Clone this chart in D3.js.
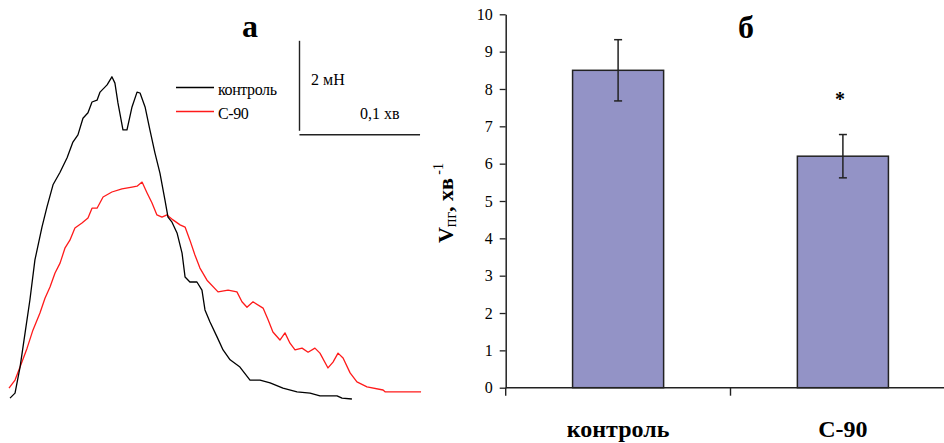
<!DOCTYPE html>
<html>
<head>
<meta charset="utf-8">
<script src="https://cdn.jsdelivr.net/npm/d3@7"></script>
<style>
  body { margin: 0; background: #fff; }
  svg { display: block; }
  text { font-family: "Liberation Serif", "Times New Roman", serif; fill: #000; }
</style>
</head>
<body>
<div id="chart"></div>
<script>
// panel а: force traces, time in s, force in mN
const controlTime = [0.05, 0.30, 0.55, 0.80, 1.04, 1.29, 1.64, 1.89, 2.19, 2.54, 2.89, 3.18, 3.43, 3.68, 3.93, 4.13, 4.38, 4.53, 4.88, 5.12, 5.27, 5.42, 5.67, 5.87, 6.12, 6.37, 6.52, 6.77, 7.01, 7.26, 7.51, 7.76, 7.91, 8.11, 8.36, 8.61, 8.76, 9.00, 9.35, 9.60, 9.75, 10.00, 10.35, 10.65, 11.00, 11.49, 11.99, 12.49, 12.99, 13.63, 14.33, 14.98, 15.47, 16.32, 16.57, 17.06];
const controlForce = [0.02, 0.13, 0.71, 1.47, 2.20, 3.09, 3.82, 4.27, 4.76, 5.04, 5.36, 5.71, 5.87, 6.24, 6.36, 6.60, 6.64, 6.82, 6.98, 7.16, 7.02, 6.58, 5.98, 5.98, 6.49, 6.82, 6.80, 6.49, 5.98, 5.47, 5.02, 4.42, 4.04, 3.93, 3.69, 3.24, 2.71, 2.60, 2.60, 2.42, 1.98, 1.71, 1.38, 1.09, 0.87, 0.71, 0.42, 0.42, 0.36, 0.24, 0.16, 0.13, 0.07, 0.07, 0.02, 0.00];

const c90Time = [0.00, 0.30, 0.55, 0.90, 1.19, 1.54, 1.79, 2.04, 2.29, 2.54, 2.79, 3.03, 3.28, 3.63, 3.93, 4.13, 4.38, 4.68, 5.12, 5.62, 6.12, 6.37, 6.62, 6.87, 7.11, 7.36, 7.61, 7.86, 8.16, 8.51, 8.76, 9.00, 9.25, 9.50, 9.85, 10.40, 10.90, 11.34, 11.59, 11.84, 12.14, 12.64, 12.89, 13.13, 13.48, 13.73, 13.98, 14.23, 14.58, 14.88, 15.22, 15.47, 15.87, 16.12, 16.37, 16.62, 16.97, 17.31, 17.81, 18.61, 18.71, 20.50];
const c90Force = [0.24, 0.42, 0.71, 1.13, 1.53, 1.91, 2.24, 2.49, 2.80, 3.02, 3.36, 3.53, 3.80, 3.91, 4.02, 4.24, 4.24, 4.49, 4.60, 4.67, 4.71, 4.73, 4.82, 4.58, 4.36, 4.09, 4.04, 4.09, 3.98, 3.87, 3.82, 3.53, 3.20, 2.91, 2.64, 2.38, 2.42, 2.38, 2.16, 2.04, 2.16, 2.02, 1.76, 1.49, 1.31, 1.47, 1.24, 1.09, 1.13, 1.04, 1.13, 1.02, 0.69, 0.82, 1.02, 0.91, 0.58, 0.38, 0.27, 0.20, 0.16, 0.16];

const traceNames = ["контроль", "С-90"];
const traceColors = ["#000000", "#ff1a1a"];

// scale bar: 2 mN, 0,1 хв (= 6 s)
const barForce = 2;
const barTime = 6;

// panel б: contraction speed
const categories = ["контроль", "С-90"];
const speedValues = [8.5, 6.2];
const speedErrors = [0.82, 0.58];
const yTicks = [0, 1, 2, 3, 4, 5, 6, 7, 8, 9, 10];

const width = 944, height = 443;

const svg = d3.select("#chart")
    .append("svg")
    .attr("width", width)
    .attr("height", height);

svg.append("rect")
    .attr("width", width)
    .attr("height", height)
    .attr("fill", "#fff");

// ---------- panel а ----------
let x = d3.scaleLinear().domain([0, 20]).range([9, 9 + 20 * 20.1]);
let y = d3.scaleLinear().domain([0, 8]).range([399, 399 - 8 * 45]);

let traces = [
    d3.zip(controlTime, controlForce),
    d3.zip(c90Time, c90Force)
];

let line = d3.line()
    .x(d => x(d[0]))
    .y(d => y(d[1]));

// red first so black sits on top where they cross
[1, 0].forEach(i => {
    svg.append("path")
        .attr("d", line(traces[i]))
        .attr("fill", "none")
        .attr("stroke", traceColors[i])
        .attr("stroke-width", 1.3)
        .attr("stroke-linejoin", "round");
});

svg.append("text")
    .attr("x", 250)
    .attr("y", 37)
    .attr("text-anchor", "middle")
    .style("font-size", "32px")
    .style("font-weight", "bold")
    .text("а");

// legend
let legend = svg.append("g");
traceNames.forEach((name, i) => {
    let ly = 87.5 + i * 24;
    legend.append("line")
        .attr("x1", 176).attr("x2", 214)
        .attr("y1", ly).attr("y2", ly)
        .attr("stroke", traceColors[i])
        .attr("stroke-width", 1.3);
    legend.append("text")
        .attr("x", 218)
        .attr("y", ly + 7)
        .style("font-size", "16px")
        .style("letter-spacing", "-0.4px")
        .text(name);
});

// scale bar
let barT0 = 14.45, barF0 = 5.96;
svg.append("line")
    .attr("x1", 299.5).attr("x2", 299.5)
    .attr("y1", y(barF0)).attr("y2", y(barF0 + barForce))
    .attr("stroke", "#222").attr("stroke-width", 1.4);
svg.append("line")
    .attr("x1", x(barT0)).attr("x2", x(barT0 + barTime))
    .attr("y1", 134.7).attr("y2", 134.7)
    .attr("stroke", "#222").attr("stroke-width", 1.4);
svg.append("text")
    .attr("x", 311).attr("y", 85)
    .style("font-size", "16px")
    .text(barForce + " мН");
svg.append("text")
    .attr("x", 360).attr("y", 119)
    .style("font-size", "16px")
    .text("0,1 хв");

// ---------- panel б ----------
let yB = d3.scaleLinear().domain([0, 10]).range([387.7, 14.3]);
let xB = d3.scaleBand()
    .domain(categories)
    .range([505.7, 955.3])
    .paddingInner(0.595)
    .paddingOuter(0.2975);

let yAxis = d3.axisLeft(yB)
    .tickValues(yTicks)
    .tickSize(6)
    .tickSizeOuter(0)
    .tickPadding(7);

let gy = svg.append("g")
    .attr("transform", "translate(505.7,0)")
    .call(yAxis);
gy.select(".domain").attr("stroke", "#222").attr("stroke-width", 1.5);
gy.selectAll(".tick line").attr("stroke", "#222").attr("stroke-width", 1.3);
gy.selectAll(".tick text")
    .style("font-family", '"Liberation Serif", "Times New Roman", serif')
    .style("font-size", "16px")
    .attr("fill", "#000");

// bars
svg.append("g")
    .selectAll("rect")
    .data(categories)
    .enter().append("rect")
    .attr("x", d => xB(d))
    .attr("y", (d, i) => yB(speedValues[i]))
    .attr("width", xB.bandwidth())
    .attr("height", (d, i) => yB(0) - yB(speedValues[i]))
    .attr("fill", "#9393c6")
    .attr("stroke", "#222")
    .attr("stroke-width", 1.5);

// error bars
let err = svg.append("g")
    .selectAll("g")
    .data(categories)
    .enter().append("g")
    .attr("stroke", "#222")
    .attr("stroke-width", 1.5);
err.append("line")
    .attr("x1", d => xB(d) + xB.bandwidth() / 2)
    .attr("x2", d => xB(d) + xB.bandwidth() / 2)
    .attr("y1", (d, i) => yB(speedValues[i] + speedErrors[i]))
    .attr("y2", (d, i) => yB(speedValues[i] - speedErrors[i]));
[1, -1].forEach(s => {
    err.append("line")
        .attr("x1", d => xB(d) + xB.bandwidth() / 2 - 4)
        .attr("x2", d => xB(d) + xB.bandwidth() / 2 + 4)
        .attr("y1", (d, i) => yB(speedValues[i] + s * speedErrors[i]))
        .attr("y2", (d, i) => yB(speedValues[i] + s * speedErrors[i]));
});

// x axis line and category boundary ticks
svg.append("line")
    .attr("x1", 505.7).attr("x2", width)
    .attr("y1", yB(0)).attr("y2", yB(0))
    .attr("stroke", "#222").attr("stroke-width", 1.5);
d3.range(categories.length + 1).forEach(k => {
    let bx = 505.7 + k * xB.step();
    svg.append("line")
        .attr("x1", bx).attr("x2", bx)
        .attr("y1", yB(0)).attr("y2", yB(0) + 8)
        .attr("stroke", "#222").attr("stroke-width", 1.4);
});

// category labels
svg.append("g")
    .selectAll("text")
    .data(categories)
    .enter().append("text")
    .attr("x", d => xB(d) + xB.bandwidth() / 2)
    .attr("y", 437)
    .attr("text-anchor", "middle")
    .style("font-size", "24px")
    .style("font-weight", "bold")
    .text(d => d);

// significance mark
svg.append("text")
    .attr("x", xB("С-90") + xB.bandwidth() / 2 - 3)
    .attr("y", 106)
    .attr("text-anchor", "middle")
    .style("font-size", "20px")
    .style("font-weight", "bold")
    .text("*");

svg.append("text")
    .attr("x", 746)
    .attr("y", 38)
    .attr("text-anchor", "middle")
    .style("font-size", "32px")
    .style("font-weight", "bold")
    .text("б");

// y axis title
let yTitle = svg.append("text")
    .attr("transform", "translate(453,203) rotate(-90)")
    .attr("text-anchor", "middle")
    .style("font-size", "22px")
    .style("font-weight", "bold");
yTitle.append("tspan").text("V");
yTitle.append("tspan")
    .attr("dy", 3)
    .style("font-size", "16px")
    .style("font-weight", "normal")
    .text("пг");
yTitle.append("tspan")
    .attr("dy", -3)
    .text(", хв");
yTitle.append("tspan")
    .attr("dy", -10)
    .style("font-size", "14px")
    .style("font-weight", "normal")
    .text(" -1");
</script>
</body>
</html>
